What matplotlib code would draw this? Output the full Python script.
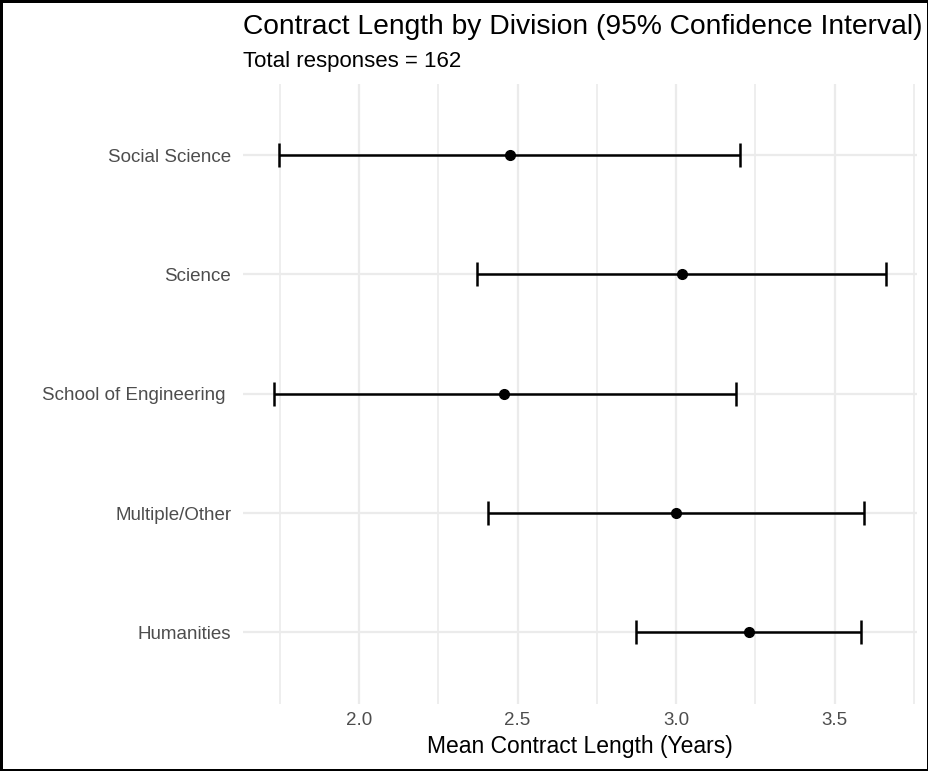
import numpy as np
import matplotlib
matplotlib.use("Agg")
import matplotlib.pyplot as plt

plt.rcParams['font.family'] = ['Liberation Sans', 'DejaVu Sans']

# --- data ---
divisions = ["Humanities", "Multiple/Other", "School of Engineering ", "Science", "Social Science"]
mean_len = [3.229, 2.999, 2.458, 3.018, 2.476]
ci_low = [2.874, 2.406, 1.731, 2.371, 1.748]
ci_high = [3.584, 3.594, 3.189, 3.663, 3.201]
n_total = 162

xticks = [2.0, 2.5, 3.0, 3.5]
xminor = [1.75, 2.25, 2.75, 3.25, 3.75]

W, H = 929, 771
fig = plt.figure(figsize=(W / 100, H / 100), dpi=100)
fig.patch.set_edgecolor("black")
fig.patch.set_linewidth(2.5)

ax = fig.add_axes([243 / W, 1 - 704 / H, (917 - 243) / W, (704 - 83.5) / H])

ypos = np.arange(1, len(divisions) + 1)
mean_len = np.array(mean_len)
err = [mean_len - np.array(ci_low), np.array(ci_high) - mean_len]

ax.errorbar(mean_len, ypos, xerr=err, fmt="o", color="black", ecolor="black",
            elinewidth=1.8, capsize=8.6, capthick=1.8, markersize=7, zorder=3)

# ggplot style 5% expansion
lo, hi = min(ci_low), max(ci_high)
pad = (hi - lo) * 0.05
ax.set_xlim(lo - pad, hi + pad)
ax.set_ylim(0.4, len(divisions) + 0.6)

ax.set_yticks(ypos)
ax.set_yticklabels(divisions)
ax.set_xticks(xticks)
ax.set_xticklabels([f"{v:.1f}" for v in xticks])
ax.set_xticks(xminor, minor=True)

for v in xticks:
    ax.axvline(v, color="#EBEBEB", lw=1.6, zorder=0)
for v in xminor:
    ax.axvline(v, color="#EBEBEB", lw=1.2, zorder=0)
for v in ypos:
    ax.axhline(v, color="#EBEBEB", lw=1.6, zorder=0)

ax.tick_params(axis="both", which="both", length=0, labelsize=13.5, labelcolor="#4D4D4D")
ax.tick_params(axis="y", pad=8.5)
ax.tick_params(axis="x", pad=6)
for s in ax.spines.values():
    s.set_visible(False)

ax.set_xlabel("Mean Contract Length (Years)", fontsize=16.5, color="black", labelpad=4)

fig.text(243 / W, 1 - 34 / H, "Contract Length by Division (95% Confidence Interval)",
         fontsize=20.3, va="baseline", ha="left", color="black")
fig.text(243 / W, 1 - 67 / H, f"Total responses = {n_total}",
         fontsize=16, va="baseline", ha="left", color="black")

fig.savefig("out.png", dpi=100, edgecolor=fig.get_edgecolor())
